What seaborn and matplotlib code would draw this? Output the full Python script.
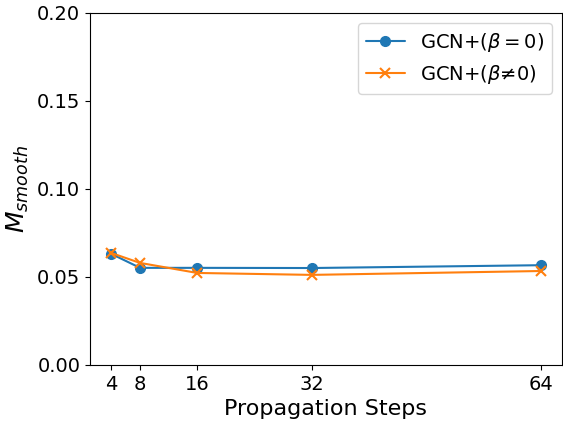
import pandas as pd
import matplotlib

matplotlib.use("Agg")
import matplotlib.pyplot as plt
import seaborn as sns

steps = [4, 8, 16, 32, 64]
beta_zero = [0.0631, 0.0552, 0.0552, 0.0551, 0.0567]
beta_nonzero = [0.0636, 0.0580, 0.0523, 0.0512, 0.0534]
y_ticks = [0.00, 0.05, 0.10, 0.15, 0.20]


def make_plot():
    sns.set_style("ticks", {"axes.edgecolor": "black", "text.color": "black",
                            "axes.labelcolor": "black", "xtick.color": "black",
                            "ytick.color": "black"})
    plt.rcParams["font.family"] = ["DejaVu Sans"]
    fig = plt.figure(figsize=(5.63, 4.21), dpi=100)
    ax = fig.add_axes([90 / 563, 56 / 421, 472 / 563, 352 / 421])

    df = pd.DataFrame({"step": steps, "zero": beta_zero, "nonzero": beta_nonzero})
    sns.lineplot(data=df, x="step", y="zero", marker="o", markersize=7,
                 markeredgecolor="#1f77b4", markeredgewidth=1, color="#1f77b4",
                 linewidth=1.5, legend=False, ax=ax)
    sns.lineplot(data=df, x="step", y="nonzero", marker="x", markersize=7,
                 markeredgecolor="#ff7f0e", markeredgewidth=1.5, color="#ff7f0e",
                 linewidth=1.5, legend=False, ax=ax)
    lines = ax.get_lines()
    lines[0].set_label(r"GCN+($\beta=0$)")
    lines[1].set_label(r"GCN+($\beta$≠0)")

    ax.set_ylim(0, 0.2)
    ax.set_yticks(y_ticks)
    ax.set_xticks(steps)
    ax.set_xlim(1, 67)
    ax.tick_params(labelsize=14)
    ax.set_xlabel("Propagation Steps", fontsize=16)
    ax.set_ylabel(r"$M_{smooth}$", fontsize=18)
    ax.legend(handles=lines[:2], loc="upper right", fontsize=14, frameon=True)
    fig.savefig("out.png", dpi=100)
    plt.close()


make_plot()
